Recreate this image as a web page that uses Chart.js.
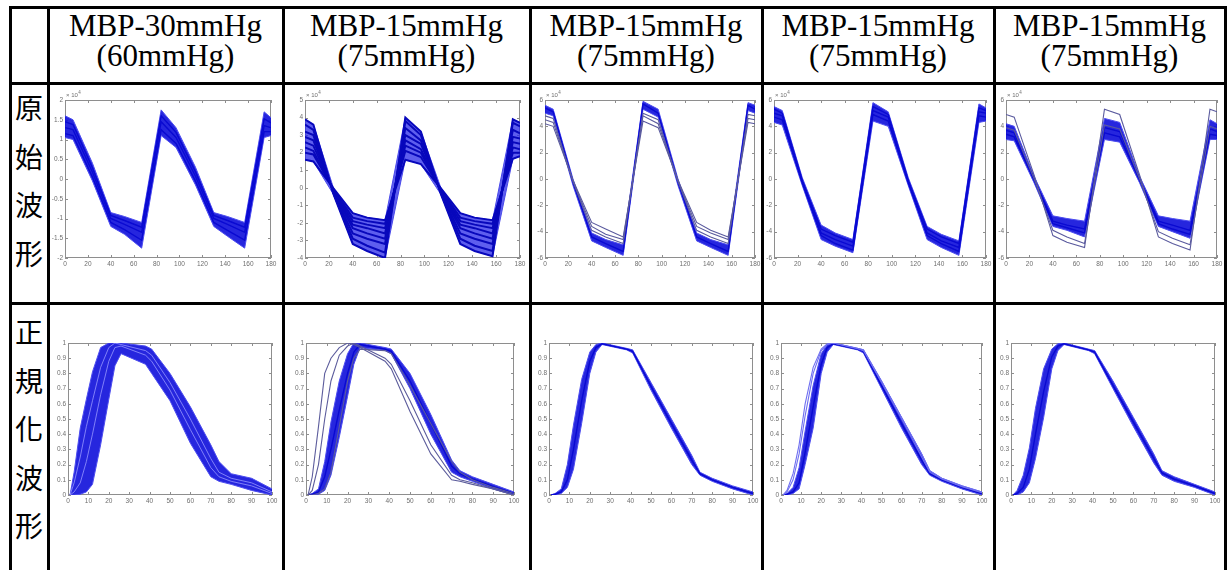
<!DOCTYPE html>
<html>
<head>
<meta charset="utf-8">
<script src="https://cdn.jsdelivr.net/npm/chart.js@4.4.1/dist/chart.umd.min.js"></script>
<style>
html, body { margin: 0; padding: 0; background: #fff; }
#page { position: relative; width: 1227px; height: 570px; overflow: hidden; background: #fff; }
.rule { position: absolute; background: #000; z-index: 2; }
.head { position: absolute; top: 11px; width: 240px; margin-left: -120px; text-align: center;
        font: 31px/30px "Liberation Serif", "Times New Roman", serif; color: #000; white-space: nowrap; }
.lab { position: absolute; left: 10px; width: 38px; text-align: center;
       font: 28px/28px "Noto Sans CJK TC", "Noto Sans CJK SC", sans-serif; color: #000; }
canvas { position: absolute; z-index: 1; }
</style>
</head>
<body>
<div id="page"></div>
<script>
// column headers and row labels
const headTop = ['MBP-30mmHg', 'MBP-15mmHg', 'MBP-15mmHg', 'MBP-15mmHg', 'MBP-15mmHg'];
const headSub = ['(60mmHg)', '(75mmHg)', '(75mmHg)', '(75mmHg)', '(75mmHg)'];
const rowLabels = ['原始波形', '正規化波形'];

// tick labels
const rawXTicks = [0, 20, 40, 60, 80, 100, 120, 140, 160, 180];
const raw1YTicks = [-2, -1.5, -1, -0.5, 0, 0.5, 1, 1.5, 2];
const raw2YTicks = [-4, -3, -2, -1, 0, 1, 2, 3, 4, 5];
const raw3YTicks = [-6, -4, -2, 0, 2, 4, 6];
const normXTicks = [0, 10, 20, 30, 40, 50, 60, 70, 80, 90, 100];
const normYTicks = [0, 0.1, 0.2, 0.3, 0.4, 0.5, 0.6, 0.7, 0.8, 0.9, 1];

// raw waveforms (x 10^4), sample index
const rawX = [0, 7, 24, 40, 52, 67, 84, 97, 114, 130, 142, 157, 174, 180];

const raw1Hi = [1.6, 1.5, 0.4, -0.85, -0.95, -1.1, 1.75, 1.3, 0.3, -0.85, -0.95, -1.1, 1.7, 1.55];
const raw1Lo = [1.05, 1.0, -0.05, -1.2, -1.4, -1.75, 1.1, 0.8, -0.15, -1.2, -1.45, -1.75, 1.05, 1.1];
const raw1Lines = [
  [1.45, 1.38, 0.28, -0.92, -1.05, -1.22, 1.6, 1.18, 0.18, -0.92, -1.05, -1.22, 1.52, 1.42],
  [1.3, 1.25, 0.17, -1.0, -1.15, -1.35, 1.45, 1.05, 0.07, -1.0, -1.15, -1.35, 1.35, 1.3],
  [1.15, 1.1, 0.05, -1.1, -1.28, -1.55, 1.25, 0.9, -0.05, -1.1, -1.3, -1.55, 1.2, 1.2]
];

const raw2Hi = [3.9, 3.6, -0.05, -1.45, -1.7, -1.85, 4.0, 3.2, -0.05, -1.45, -1.7, -1.85, 3.9, 3.7];
const raw2Lo = [1.6, 1.5, -0.4, -3.2, -3.6, -4.0, 1.6, 1.35, -0.4, -3.2, -3.6, -3.9, 1.65, 1.8];
const raw2Lines = [
  [3.9, 3.6, -0.4, -3.2, -3.6, -4.0, 4.0, 3.2, -0.4, -3.2, -3.6, -3.9, 3.9, 3.7],
  [3.6, 3.3, -0.35, -2.9, -3.3, -3.7, 3.8, 3.0, -0.35, -2.9, -3.3, -3.6, 3.7, 3.5],
  [3.2, 3.0, -0.3, -2.6, -2.9, -3.2, 3.4, 2.7, -0.3, -2.6, -2.9, -3.2, 3.3, 3.1],
  [2.9, 2.7, -0.25, -2.3, -2.6, -2.9, 3.0, 2.5, -0.25, -2.3, -2.6, -2.9, 2.9, 2.8],
  [2.6, 2.4, -0.2, -2.1, -2.3, -2.6, 2.7, 2.2, -0.2, -2.1, -2.3, -2.6, 2.6, 2.5],
  [2.3, 2.1, -0.15, -1.9, -2.1, -2.3, 2.4, 2.0, -0.15, -1.9, -2.1, -2.3, 2.3, 2.2],
  [2.0, 1.9, -0.1, -1.7, -1.9, -2.05, 2.1, 1.75, -0.1, -1.7, -1.9, -2.05, 2.0, 2.0],
  [1.6, 1.5, -0.05, -1.45, -1.7, -1.85, 1.6, 1.35, -0.05, -1.45, -1.7, -1.85, 1.65, 1.8]
];

const raw3Hi = [5.6, 5.3, 0.0, -4.1, -4.6, -5.0, 5.9, 5.3, 0.0, -4.1, -4.6, -5.0, 5.8, 5.6];
const raw3Lo = [5.0, 4.8, -0.5, -4.7, -5.2, -5.8, 5.3, 4.7, -0.5, -4.7, -5.2, -5.8, 5.2, 5.0];
const raw3Lines = [
  [5.4, 5.1, -0.25, -4.4, -4.9, -5.5, 5.7, 5.0, -0.25, -4.4, -4.9, -5.5, 5.6, 5.3]
];
const raw3Odd = [
  [4.2, 4.0, -0.1, -3.3, -3.8, -4.4, 4.4, 3.9, -0.1, -3.3, -3.9, -4.4, 4.3, 4.2],
  [4.8, 4.6, -0.2, -3.9, -4.4, -4.9, 5.0, 4.5, -0.2, -3.9, -4.4, -4.9, 4.9, 4.8],
  [4.5, 4.3, -0.15, -3.6, -4.2, -4.6, 4.8, 4.2, -0.15, -3.6, -4.1, -4.6, 4.6, 4.5]
];

const raw4Hi = [5.5, 5.2, 0.1, -3.5, -4.1, -4.6, 5.8, 5.1, 0.1, -3.6, -4.2, -4.7, 5.7, 5.4];
const raw4Lo = [4.3, 4.1, -0.5, -4.6, -5.1, -5.6, 4.4, 4.0, -0.5, -4.6, -5.2, -5.8, 4.3, 4.4];
const raw4Lines = [
  [5.3, 5.0, -0.1, -3.8, -4.3, -4.8, 5.5, 4.9, -0.1, -3.8, -4.4, -4.9, 5.4, 5.2],
  [5.0, 4.8, -0.2, -4.1, -4.6, -5.1, 5.2, 4.7, -0.2, -4.1, -4.7, -5.2, 5.1, 5.0],
  [4.7, 4.5, -0.3, -4.3, -4.9, -5.4, 4.9, 4.4, -0.3, -4.3, -4.9, -5.5, 4.8, 4.7]
];

const raw5Hi = [4.2, 4.0, 0.2, -2.8, -3.0, -3.2, 4.6, 4.3, 0.2, -2.8, -3.0, -3.2, 4.5, 4.2];
const raw5Lo = [3.0, 2.9, -0.3, -3.6, -3.9, -4.4, 3.0, 2.8, -0.3, -3.6, -4.0, -4.5, 3.0, 3.0];
const raw5Lines = [
  [3.7, 3.5, 0.0, -3.2, -3.5, -3.8, 3.9, 3.6, 0.0, -3.2, -3.5, -3.9, 3.8, 3.6],
  [3.4, 3.2, -0.1, -3.4, -3.7, -4.1, 3.5, 3.2, -0.1, -3.4, -3.8, -4.2, 3.4, 3.3]
];
const raw5Odd = [
  [4.9, 4.7, 0.3, -4.3, -4.8, -5.2, 5.3, 4.9, 0.3, -4.4, -4.9, -5.4, 5.3, 5.1],
  [3.9, 3.7, 0.0, -3.9, -4.4, -4.9, 4.1, 3.8, 0.0, -4.0, -4.5, -5.0, 4.0, 3.8]
];

// normalised waveforms, % of cycle
const normX = [1, 3, 6, 9, 12, 16, 20, 23, 26, 38, 41, 50, 60, 70, 74, 80, 90, 100];

const norm1Hi = [0, 0.15, 0.44, 0.63, 0.81, 0.97, 1.0, 1.0, 1.0, 0.98, 0.96, 0.8, 0.58, 0.33, 0.22, 0.14, 0.11, 0.04];
const norm1Lo = [0, 0.0, 0.005, 0.02, 0.07, 0.33, 0.63, 0.85, 0.93, 0.86, 0.8, 0.62, 0.34, 0.12, 0.09, 0.07, 0.03, 0.0];
const norm1Lines = [
  [0, 0.08, 0.25, 0.45, 0.62, 0.84, 0.97, 1.0, 0.99, 0.95, 0.92, 0.74, 0.5, 0.24, 0.15, 0.11, 0.08, 0.02],
  [0, 0.02, 0.08, 0.22, 0.4, 0.66, 0.88, 0.97, 0.98, 0.92, 0.88, 0.69, 0.43, 0.18, 0.12, 0.09, 0.06, 0.01]
];

const norm2Hi = [0, 0.01, 0.04, 0.22, 0.48, 0.75, 0.93, 1.0, 1.0, 0.97, 0.96, 0.8, 0.53, 0.23, 0.16, 0.12, 0.07, 0.02];
const norm2Lo = [0, 0.0, 0.005, 0.03, 0.13, 0.38, 0.65, 0.86, 0.97, 0.95, 0.93, 0.7, 0.4, 0.15, 0.12, 0.09, 0.04, 0.0];
const norm2Lines = [
  [0, 0.005, 0.02, 0.12, 0.3, 0.56, 0.8, 0.94, 0.99, 0.96, 0.945, 0.75, 0.47, 0.19, 0.14, 0.105, 0.055, 0.01]
];
const norm2Odd = [
  [0, 0.12, 0.45, 0.8, 0.9, 0.97, 1.0, 0.99, 0.97, 0.88, 0.83, 0.55, 0.27, 0.1, 0.09, 0.07, 0.04, 0.0],
  [0, 0.03, 0.2, 0.5, 0.75, 0.92, 0.98, 1.0, 0.98, 0.9, 0.86, 0.62, 0.33, 0.13, 0.1, 0.08, 0.04, 0.0],
  [0, 0, 0.01, 0.04, 0.15, 0.45, 0.75, 0.9, 0.96, 0.95, 0.93, 0.72, 0.47, 0.22, 0.15, 0.1, 0.05, 0.01]
];

const norm3Hi = [0, 0.01, 0.04, 0.2, 0.46, 0.76, 0.94, 0.99, 1.0, 0.965, 0.955, 0.74, 0.5, 0.26, 0.15, 0.11, 0.06, 0.02];
const norm3Lo = [0, 0.0, 0.01, 0.05, 0.17, 0.47, 0.8, 0.94, 0.99, 0.955, 0.935, 0.69, 0.44, 0.2, 0.13, 0.09, 0.04, 0.0];
const norm3Lines = [
  [0, 0.005, 0.02, 0.1, 0.3, 0.62, 0.88, 0.97, 0.995, 0.96, 0.945, 0.715, 0.47, 0.23, 0.14, 0.1, 0.05, 0.01]
];

const norm4Hi = [0, 0.01, 0.05, 0.18, 0.42, 0.72, 0.93, 0.99, 1.0, 0.965, 0.955, 0.75, 0.51, 0.27, 0.16, 0.11, 0.06, 0.02];
const norm4Lo = [0, 0.0, 0.01, 0.04, 0.2, 0.44, 0.8, 0.94, 0.99, 0.955, 0.935, 0.7, 0.44, 0.2, 0.13, 0.09, 0.04, 0.0];
const norm4Lines = [
  [0, 0.005, 0.02, 0.08, 0.28, 0.58, 0.86, 0.97, 0.995, 0.96, 0.945, 0.72, 0.47, 0.23, 0.14, 0.1, 0.05, 0.01]
];
const norm4Odd = [
  [0, 0.03, 0.14, 0.33, 0.6, 0.84, 0.96, 0.995, 1.0, 0.965, 0.955, 0.75, 0.51, 0.27, 0.16, 0.11, 0.06, 0.02],
  [0, 0.02, 0.1, 0.27, 0.52, 0.8, 0.95, 0.99, 1.0, 0.962, 0.95, 0.74, 0.5, 0.25, 0.15, 0.105, 0.055, 0.015]
];

const norm5Hi = [0, 0.03, 0.13, 0.31, 0.57, 0.83, 0.96, 0.995, 1.0, 0.96, 0.95, 0.75, 0.51, 0.27, 0.16, 0.12, 0.07, 0.02];
const norm5Lo = [0, 0.0, 0.02, 0.08, 0.24, 0.51, 0.83, 0.95, 0.99, 0.95, 0.93, 0.7, 0.45, 0.21, 0.13, 0.09, 0.05, 0.0];
const norm5Lines = [
  [0, 0.01, 0.05, 0.17, 0.4, 0.68, 0.91, 0.98, 0.995, 0.955, 0.94, 0.72, 0.48, 0.24, 0.145, 0.105, 0.06, 0.01]
];

// ---------- layout ----------
const page = document.getElementById('page');
const vRules = [10, 48, 283, 530, 762, 994, 1225];
const hRules = [7, 83, 303];
const row1Boxes = [[65, 271], [305, 520], [545, 755], [774, 986], [1006, 1217]];
const row2Boxes = [[68, 272], [306, 514], [549, 753], [781, 982], [1011, 1215]];

vRules.forEach(x => {
  const d = document.createElement('div');
  d.className = 'rule';
  d.style.cssText = 'left:' + (x - 1.5) + 'px;top:5.5px;width:3px;height:570px';
  page.appendChild(d);
});
hRules.forEach(y => {
  const d = document.createElement('div');
  d.className = 'rule';
  d.style.cssText = 'left:8.5px;top:' + (y - 1.5) + 'px;width:1218px;height:3px';
  page.appendChild(d);
});

headTop.forEach((t, i) => {
  const d = document.createElement('div');
  d.className = 'head';
  d.style.left = ((vRules[i + 1] + vRules[i + 2]) / 2) + 'px';
  d.innerHTML = t + '<br>' + headSub[i];
  page.appendChild(d);
});

[[rowLabels[0], 108], [rowLabels[1], 332]].forEach(([txt, c0]) => {
  Array.from(txt).forEach((ch, k) => {
    const d = document.createElement('div');
    d.className = 'lab';
    d.style.top = (c0 + k * 48.5 - 15) + 'px';
    d.textContent = ch;
    page.appendChild(d);
  });
});

// MATLAB style box with inward ticks, and the x10^4 mark
const matlabBox = {
  id: 'matlabBox',
  beforeDatasetsDraw(chart, args, opts) {
    const { ctx, chartArea: a } = chart;
    const sx = chart.scales.x, sy = chart.scales.y;
    ctx.save();
    ctx.strokeStyle = '#8e8e8e';
    ctx.lineWidth = 1;
    ctx.strokeRect(Math.round(a.left) + 0.5, Math.round(a.top) + 0.5,
      Math.round(a.right - a.left) - 1, Math.round(a.bottom - a.top) - 1);
    ctx.beginPath();
    sx.ticks.forEach(t => {
      const p = Math.round(sx.getPixelForValue(t.value)) + 0.5;
      ctx.moveTo(p, a.bottom); ctx.lineTo(p, a.bottom - 3);
      ctx.moveTo(p, a.top); ctx.lineTo(p, a.top + 3);
    });
    sy.ticks.forEach(t => {
      const p = Math.round(sy.getPixelForValue(t.value)) + 0.5;
      ctx.moveTo(a.left, p); ctx.lineTo(a.left + 3, p);
      ctx.moveTo(a.right, p); ctx.lineTo(a.right - 3, p);
    });
    ctx.stroke();
    if (opts.exponent) {
      ctx.fillStyle = '#707070';
      ctx.font = '6px "Liberation Sans", Arial, sans-serif';
      ctx.fillText('× 10', a.left + 1, a.top - 3);
      const w = ctx.measureText('× 10').width;
      ctx.font = '4.5px "Liberation Sans", Arial, sans-serif';
      ctx.fillText('4', a.left + 1.5 + w, a.top - 6);
    }
    ctx.restore();
  }
};

function pts(xs, ys) {
  return xs.map((x, i) => ({ x: x, y: ys[i] }));
}

function axis(ticks, size) {
  return {
    type: 'linear',
    min: ticks[0],
    max: ticks[ticks.length - 1],
    afterBuildTicks: s => { s.ticks = ticks.map(v => ({ value: v })); },
    afterFit: s => {
      if (s.isHorizontal()) s.height = size; else s.width = size;
      s.paddingLeft = s.paddingRight = s.paddingTop = s.paddingBottom = 0;
    },
    grid: { display: false, drawTicks: false },
    border: { display: false },
    ticks: {
      autoSkip: false, maxRotation: 0, padding: 2,
      color: '#6e6e6e',
      font: { size: 6.5, family: '"Liberation Sans", Arial, sans-serif' },
      callback: v => String(v)
    }
  };
}

function panel(p, box, top, bottom) {
  const cv = document.createElement('canvas');
  const w = box[1] - box[0] + 22 + 12, h = bottom - top + 24;
  cv.width = w; cv.height = h;
  cv.style.left = (box[0] - 22) + 'px';
  cv.style.top = (top - 12) + 'px';
  cv.style.width = w + 'px';
  cv.style.height = h + 'px';
  page.appendChild(cv);

  const ds = [
    { data: pts(p.x, p.lo), borderColor: p.edge, borderWidth: 1, fill: false, order: 3 },
    { data: pts(p.x, p.hi), borderColor: p.edge, borderWidth: 1, fill: '-1', backgroundColor: p.band, order: 3 }
  ];
  p.lines.forEach(l => ds.push({ data: pts(p.x, l), borderColor: p.lineColor, borderWidth: p.lineWidth, fill: false, order: 2 }));
  (p.odd || []).forEach(l => ds.push({ data: pts(p.x, l), borderColor: p.oddColor, borderWidth: 1.1, fill: false, order: 1 }));

  new Chart(cv, {
    type: 'line',
    data: { datasets: ds },
    options: {
      responsive: false,
      animation: false,
      devicePixelRatio: 1,
      layout: { padding: { left: 0, top: 12, right: 12, bottom: 0 } },
      elements: { point: { radius: 0 }, line: { tension: 0 } },
      plugins: { legend: { display: false }, tooltip: { enabled: false }, matlabBox: { exponent: p.exponent } },
      scales: {
        x: axis(p.xTicks, 12),
        y: axis(p.yTicks, 22)
      }
    },
    plugins: [matlabBox]
  });
}

const dense = { band: 'rgba(14,14,218,0.9)', edge: '#4d4def', lineColor: '#0a0ad2', lineWidth: 1.4 };

const rawPanels = [
  Object.assign({}, dense, { x: rawX, xTicks: rawXTicks, yTicks: raw1YTicks, hi: raw1Hi, lo: raw1Lo, lines: raw1Lines }),
  { x: rawX, xTicks: rawXTicks, yTicks: raw2YTicks, hi: raw2Hi, lo: raw2Lo, lines: raw2Lines,
    band: 'rgba(40,40,232,0.75)', edge: '#4a4aea', lineColor: '#0808bc', lineWidth: 2 },
  Object.assign({}, dense, { x: rawX, xTicks: rawXTicks, yTicks: raw3YTicks, hi: raw3Hi, lo: raw3Lo, lines: raw3Lines, odd: raw3Odd, oddColor: '#5a5a9e' }),
  Object.assign({}, dense, { x: rawX, xTicks: rawXTicks, yTicks: raw3YTicks, hi: raw4Hi, lo: raw4Lo, lines: raw4Lines }),
  Object.assign({}, dense, { x: rawX, xTicks: rawXTicks, yTicks: raw3YTicks, hi: raw5Hi, lo: raw5Lo, lines: raw5Lines, odd: raw5Odd, oddColor: '#5a5a9e' })
];
const normPanels = [
  Object.assign({}, dense, { x: normX, xTicks: normXTicks, yTicks: normYTicks, hi: norm1Hi, lo: norm1Lo, lines: norm1Lines, lineColor: 'rgba(150,150,255,0.8)', lineWidth: 1 }),
  Object.assign({}, dense, { x: normX, xTicks: normXTicks, yTicks: normYTicks, hi: norm2Hi, lo: norm2Lo, lines: norm2Lines, odd: norm2Odd, oddColor: '#5c5c9c' }),
  Object.assign({}, dense, { x: normX, xTicks: normXTicks, yTicks: normYTicks, hi: norm3Hi, lo: norm3Lo, lines: norm3Lines }),
  Object.assign({}, dense, { x: normX, xTicks: normXTicks, yTicks: normYTicks, hi: norm4Hi, lo: norm4Lo, lines: norm4Lines, odd: norm4Odd, oddColor: '#6f6ff0' }),
  Object.assign({}, dense, { x: normX, xTicks: normXTicks, yTicks: normYTicks, hi: norm5Hi, lo: norm5Lo, lines: norm5Lines })
];

rawPanels.forEach((p, i) => { p.exponent = true; panel(p, row1Boxes[i], 100, 258); });
normPanels.forEach((p, i) => { panel(p, row2Boxes[i], 343, 495); });
</script>
</body>
</html>
